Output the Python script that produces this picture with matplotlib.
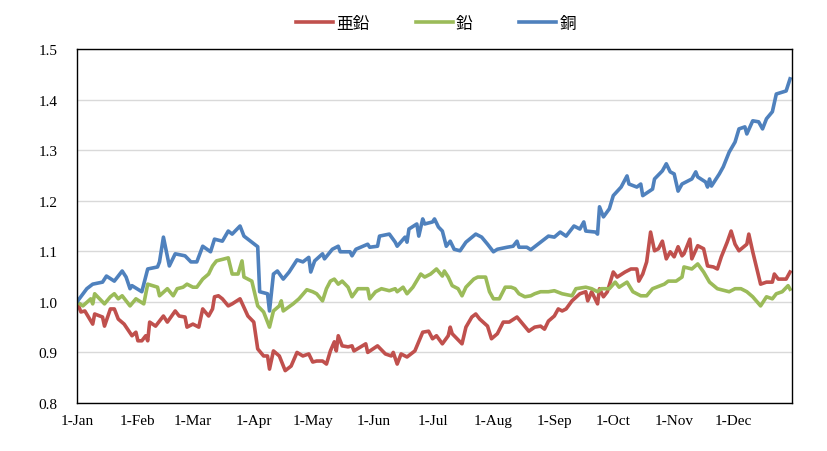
import numpy as np
import matplotlib
matplotlib.use("Agg")
import matplotlib.pyplot as plt
import datetime as dt

plt.rcParams['font.family'] = ['Liberation Serif', 'Noto Sans CJK JP']

year_start = dt.date(2017, 1, 1)
month_labels = ['1-Jan', '1-Feb', '1-Mar', '1-Apr', '1-May', '1-Jun',
                '1-Jul', '1-Aug', '1-Sep', '1-Oct', '1-Nov', '1-Dec']

# 亜鉛 (zinc) - day offset from Jan 1, value
zinc_days = [0, 2, 4, 8, 9, 13, 14, 17, 19, 21, 24, 28, 30, 31, 33, 35, 36, 37, 40, 44,
             46, 50, 52, 55, 56, 59, 62, 64, 67, 69, 70, 72, 74, 77, 79, 83, 87, 90, 92, 95,
             97, 98, 100, 103, 106, 109, 112, 115, 118, 120, 122, 125, 127, 129, 131, 132, 133, 135, 138, 140,
             141, 147, 148, 153, 157, 160, 161, 163, 165, 168, 172, 175, 176, 179, 181, 183, 186, 189, 190, 191,
             196, 198, 201, 203, 205, 209, 211, 214, 217, 220, 224, 227, 230, 233, 236, 238, 240, 243, 245, 247,
             249, 252, 256, 259, 260, 262, 265, 266, 268, 270, 273, 275, 279, 282, 285, 286, 288, 290, 292, 294,
             296, 298, 300, 302, 304, 306, 308, 309, 312, 313, 316, 319, 321, 324, 326, 328, 331, 333, 335, 337,
             341, 342, 344, 348, 351, 354, 355, 357, 361, 363]
zinc_vals = [1.000, 0.980, 0.982, 0.956, 0.976, 0.970, 0.952, 0.986, 0.986, 0.966, 0.956, 0.933, 0.940, 0.923, 0.923, 0.933, 0.923, 0.960, 0.952, 0.972,
             0.960, 0.982, 0.972, 0.970, 0.950, 0.956, 0.950, 0.986, 0.972, 0.986, 1.010, 1.012, 1.006, 0.992, 0.996, 1.006, 0.972, 0.960, 0.907, 0.893,
             0.893, 0.867, 0.903, 0.893, 0.864, 0.873, 0.900, 0.893, 0.897, 0.881, 0.883, 0.883, 0.877, 0.903, 0.921, 0.903, 0.933, 0.913, 0.911, 0.913,
             0.903, 0.917, 0.900, 0.913, 0.897, 0.893, 0.900, 0.877, 0.897, 0.891, 0.903, 0.931, 0.940, 0.942, 0.927, 0.933, 0.917, 0.933, 0.950, 0.937,
             0.917, 0.950, 0.970, 0.976, 0.966, 0.952, 0.927, 0.937, 0.960, 0.960, 0.970, 0.956, 0.942, 0.950, 0.952, 0.946, 0.962, 0.972, 0.986, 0.982,
             0.986, 1.002, 1.016, 1.020, 1.002, 1.020, 0.996, 1.026, 1.010, 1.020, 1.059, 1.049, 1.059, 1.065, 1.065, 1.041, 1.055, 1.079, 1.138, 1.101,
             1.105, 1.120, 1.085, 1.099, 1.089, 1.109, 1.091, 1.095, 1.124, 1.085, 1.111, 1.105, 1.071, 1.069, 1.065, 1.089, 1.118, 1.140, 1.114, 1.101,
             1.114, 1.134, 1.099, 1.035, 1.039, 1.039, 1.055, 1.045, 1.045, 1.059]

# 鉛 (lead)
lead_days = [0, 3, 7, 8, 9, 14, 17, 19, 21, 23, 27, 30, 34, 36, 41, 42, 46, 49, 51, 54,
             56, 59, 61, 64, 67, 69, 71, 77, 79, 82, 84, 85, 89, 92, 95, 98, 100, 103, 104, 105,
             110, 113, 117, 120, 122, 125, 127, 129, 131, 133, 135, 138, 140, 143, 148, 149, 152, 155, 159, 162,
             163, 166, 168, 171, 175, 177, 180, 183, 186, 187, 189, 191, 194, 196, 198, 202, 204, 208, 210, 212,
             215, 218, 221, 223, 225, 228, 231, 233, 236, 240, 243, 247, 252, 254, 259, 262, 265, 267, 271, 274,
             276, 280, 283, 287, 290, 293, 297, 299, 301, 305, 308, 309, 313, 316, 319, 322, 326, 330, 332, 335,
             338, 341, 344, 348, 351, 354, 356, 359, 362, 363]
lead_vals = [1.000, 0.992, 1.006, 0.996, 1.016, 0.996, 1.010, 1.016, 1.006, 1.012, 0.992, 1.006, 0.996, 1.035, 1.029, 1.012, 1.026, 1.012, 1.026, 1.029,
             1.035, 1.029, 1.029, 1.045, 1.055, 1.071, 1.081, 1.087, 1.055, 1.055, 1.081, 1.049, 1.041, 0.992, 0.980, 0.950, 0.982, 0.992, 1.002, 0.982,
             0.996, 1.006, 1.024, 1.020, 1.016, 1.002, 1.026, 1.041, 1.045, 1.035, 1.041, 1.029, 1.010, 1.026, 1.026, 1.006, 1.020, 1.026, 1.022, 1.026,
             1.020, 1.029, 1.016, 1.029, 1.055, 1.049, 1.055, 1.065, 1.051, 1.061, 1.049, 1.032, 1.026, 1.012, 1.029, 1.045, 1.049, 1.049, 1.020, 1.006,
             1.006, 1.029, 1.029, 1.026, 1.016, 1.010, 1.012, 1.016, 1.020, 1.020, 1.022, 1.016, 1.012, 1.026, 1.029, 1.026, 1.020, 1.026, 1.026, 1.039,
             1.029, 1.039, 1.020, 1.012, 1.012, 1.026, 1.032, 1.035, 1.041, 1.041, 1.049, 1.069, 1.065, 1.075, 1.059, 1.039, 1.026, 1.022, 1.020, 1.026,
             1.026, 1.020, 1.010, 0.992, 1.010, 1.006, 1.016, 1.020, 1.032, 1.025]

# 銅 (copper)
copper_days = [0, 5, 8, 13, 15, 19, 23, 25, 27, 28, 33, 36, 41, 42, 44, 47, 50, 55, 58, 61,
               64, 68, 70, 74, 77, 79, 83, 85, 89, 92, 93, 97, 98, 100, 102, 105, 108, 112, 115, 118,
               119, 121, 125, 126, 130, 133, 134, 139, 140, 142, 148, 149, 153, 154, 159, 162, 163, 167, 168, 169,
               173, 174, 176, 177, 181, 182, 184, 186, 188, 190, 192, 195, 198, 203, 206, 209, 212, 214, 219, 222,
               224, 225, 229, 231, 236, 240, 243, 246, 249, 253, 256, 258, 259, 264, 265, 266, 268, 271, 273, 277,
               280, 281, 285, 287, 288, 293, 294, 298, 300, 302, 304, 306, 308, 313, 315, 316, 320, 321, 322, 323,
               327, 329, 332, 335, 337, 340, 341, 344, 347, 349, 351, 354, 356, 361, 363]
copper_vals = [1.000, 1.026, 1.035, 1.039, 1.051, 1.041, 1.061, 1.049, 1.026, 1.032, 1.020, 1.065, 1.069, 1.079, 1.128, 1.071, 1.095, 1.091, 1.079, 1.079,
               1.110, 1.099, 1.124, 1.120, 1.140, 1.134, 1.150, 1.130, 1.118, 1.109, 1.020, 1.016, 0.982, 1.055, 1.061, 1.045, 1.059, 1.083, 1.079, 1.088,
               1.059, 1.081, 1.095, 1.085, 1.104, 1.110, 1.099, 1.099, 1.091, 1.104, 1.114, 1.108, 1.110, 1.130, 1.134, 1.118, 1.110, 1.128, 1.118, 1.144,
               1.154, 1.130, 1.164, 1.154, 1.158, 1.164, 1.148, 1.140, 1.110, 1.120, 1.104, 1.101, 1.118, 1.134, 1.128, 1.114, 1.099, 1.104, 1.108, 1.110,
               1.120, 1.108, 1.108, 1.103, 1.118, 1.130, 1.128, 1.138, 1.130, 1.150, 1.144, 1.158, 1.140, 1.138, 1.134, 1.188, 1.168, 1.184, 1.210, 1.227,
               1.249, 1.233, 1.227, 1.233, 1.210, 1.223, 1.243, 1.259, 1.273, 1.257, 1.253, 1.219, 1.233, 1.243, 1.257, 1.247, 1.237, 1.227, 1.243, 1.229,
               1.253, 1.267, 1.296, 1.316, 1.342, 1.346, 1.332, 1.358, 1.356, 1.342, 1.362, 1.376, 1.411, 1.417, 1.441]

series = [
    ('亜鉛', zinc_days, zinc_vals, '#C0504D'),
    ('鉛', lead_days, lead_vals, '#9BBB59'),
    ('銅', copper_days, copper_vals, '#4F81BD'),
]

fig = plt.figure(figsize=(8.27, 4.52), dpi=100)
ax = fig.add_axes([0.0931, 0.1062, 0.8646, 0.7832])

for name, days, vals, color in series:
    x = [year_start + dt.timedelta(days=d) for d in days]
    ax.plot(x, vals, color=color, lw=2.6, label=name, solid_joinstyle='round')

ax.set_ylim(0.8, 1.5)
ax.set_yticks(np.arange(0.8, 1.51, 0.1))
ax.set_yticklabels([f'{v:.1f}' for v in np.arange(0.8, 1.51, 0.1)])
ax.set_xlim(year_start, year_start + dt.timedelta(days=364))
month_starts = [dt.date(2017, m, 1) for m in range(1, 13)]
ax.set_xticks(month_starts)
ax.set_xticklabels(month_labels)

ax.grid(axis='y', color='#D9D9D9', lw=1)
ax.set_axisbelow(True)
for s in ax.spines.values():
    s.set_color('black')
    s.set_linewidth(1.0)
ax.tick_params(length=0, labelsize=11)
ax.tick_params(axis='y', pad=14)
ax.tick_params(axis='x', pad=8)

ax.legend(loc='center', bbox_to_anchor=(0.502, 1.07), ncol=3, frameon=False,
          fontsize=12, handlelength=2.2, columnspacing=2.8, handletextpad=0.2)

fig.savefig('out.png', dpi=100)
